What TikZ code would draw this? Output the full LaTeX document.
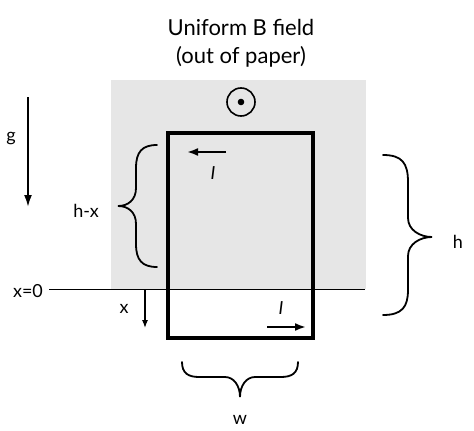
\documentclass[tikz,border=0pt]{standalone}
\usepackage{fontspec}
\setmainfont{Lato}
\usetikzlibrary{arrows.meta}
\definecolor{fieldgray}{RGB}{230,230,230}
\tikzset{
  lbl/.style={inner sep=0pt, font=\fontsize{18}{20}\selectfont},
  ttl/.style={inner sep=0pt, anchor=base, font=\fontsize{22}{26}\selectfont},
  curr/.style={line width=2pt, -{Latex[length=11pt,width=8pt]}},
  bracestroke/.style={line width=1.8pt, line cap=round},
}
\begin{document}
\begin{tikzpicture}[x=1pt,y=-1pt]
\useasboundingbox (0,0) rectangle (474,431);
\fill[fieldgray] (111,80) rectangle (366,289);

\node[ttl] (title1) at (241,35) {Uniform B field};
\node[ttl] (title2) at (241,63) {(out of paper)};
\node[draw, circle, line width=1.6pt, minimum size=28pt, inner sep=0pt] (B) at (241,102) {};
\fill (B.center) circle (3.3);

% loop
\draw[line width=3.3pt] (168,133) rectangle (313,338);

% x=0 line
\coordinate (zl) at (49,289);
\coordinate (zr) at (365,289);
\path[draw, line width=1pt] (zl) -- (zr);
\node[lbl] (x0) at (28,291) {x=0};

% gravity
\coordinate (g1) at (28,97);
\coordinate (g2) at (28,207);
\path[draw, line width=2pt, -{Latex[length=12pt,width=8pt]}] (g1) -- (g2);
\node[lbl] (g) at (11,139) {g};

% displacement
\coordinate (x1) at (145,289);
\coordinate (x2) at (145,328);
\path[draw, line width=1.2pt, -{Latex[length=8pt,width=6pt]}] (x1) -- (x2);
\node[lbl] (x) at (124,309) {x};

% currents
\coordinate (ia) at (226,152);
\coordinate (ib) at (187,152);
\path[draw, curr] (ia) -- (ib);
\node[lbl] (Itop) at (213,173) {\textit{I}};
\coordinate (ic) at (267,327);
\coordinate (id) at (306,327);
\path[draw, curr] (ic) -- (id);
\node[lbl] (Ibot) at (281,308) {\textit{I}};

% braces
\draw[bracestroke] (157,145) .. controls (142,145) and (136,152) .. (136,168) -- (136,188)
  .. controls (136,200) and (128,206) .. (118,206) .. controls (128,206) and (136,212) .. (136,224)
  -- (136,244) .. controls (136,260) and (142,267) .. (157,267);
\node[lbl] (hx) at (86,211) {h-x};

\draw[bracestroke] (383,155) .. controls (402,155) and (408,163) .. (408,182) -- (408,218)
  .. controls (408,230) and (420,237) .. (432,237) .. controls (420,237) and (408,244) .. (408,256)
  -- (408,290) .. controls (408,307) and (402,315) .. (383,315);
\node[lbl] (h) at (458,242) {h};

\draw[bracestroke] (182,362) .. controls (182,373) and (188,377) .. (199,377) -- (225,377)
  .. controls (234,377) and (240,386) .. (240,397) .. controls (240,386) and (246,377) .. (255,377)
  -- (281,377) .. controls (292,377) and (298,373) .. (298,362);
\node[lbl] (w) at (240,420) {w};
\end{tikzpicture}
\end{document}
